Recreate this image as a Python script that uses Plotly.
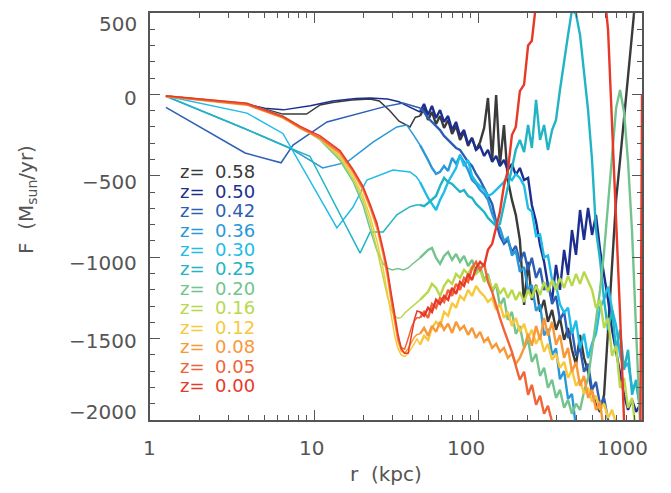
import math
import plotly.graph_objects as go

# Shared outer radial grid (kpc) for the noisy outer parts of all curves
R_GRID = [44.3, 46.9, 49.6, 52.4, 55.5, 58.7, 62.1, 65.7, 69.5, 73.5, 77.7, 82.2, 87.0, 92.0,
          97.3, 103, 109, 115, 122, 129, 136, 144, 152, 161, 170, 180, 191, 202, 213, 226,
          239, 253, 267, 283, 299, 316, 335, 354, 374, 396, 419, 443, 469, 496, 524, 555,
          587, 621, 657, 695, 735, 777, 822, 870, 920, 973]

LABELS = ["0.58", "0.50", "0.42", "0.36", "0.30", "0.25", "0.20", "0.16", "0.12", "0.08", "0.05", "0.00"]
COLORS = ["#3a3a3a", "#1c2f8f", "#2c5fb4", "#2898d8", "#20bce8", "#22b4c4",
          "#72c48c", "#b8d84c", "#f8c83c", "#f89838", "#f06438", "#e83828"]

# z = 0.58
r_in_058 = [1.25, 3.9, 6.46, 9.0, 10.9, 13, 17, 22, 25, 29, 33, 38.5, 41.5]
f_in_058 = [-10, -60, -121, -121, -65, -50, -35, -28, -40, -100, -165, -200, -140]
f_out_058 = [-133, -84, -157, -108, -182, -133, -206, -157, -243, -194, -280, -231, -317, -268,
             -341, -292, -206, -22, -403, -4, -433, -188, -526, -648, -740, -894, -1293, -1029,
             -1262, -1170, -1336, -1262, -1397, -1324, -1446, -1373, -1508, -1434, -1569, -1661,
             -1477, -1618, -1704, -1827, -1907, -1950, -1845, -1446, -1029, -648, -403, -126,
             150, 426, 641, 887]
# z = 0.50
r_in_050 = [1.25, 3.9, 5.0, 6.5, 9.5, 13, 18, 22, 28, 33, 37, 41.5]
f_in_050 = [-10, -60, -85, -95, -70, -40, -25, -22, -28, -45, -70, -95]
f_out_050 = [-108, -59, -126, -71, -145, -96, -169, -133, -219, -169, -255, -219, -305, -268,
             -341, -317, -378, -341, -415, -378, -440, -403, -464, -427, -495, -452, -526, -513,
             -679, -783, -925, -1029, -1170, -1262, -1047, -1201, -955, -1109, -833, -986, -710,
             -894, -697, -863, -740, -955, -1109, -1262, -1446, -1581, -1704, -1845, -1938,
             -1876, -1950, -1907]
# z = 0.42
r_in_042 = [1.25, 3.8, 6.3, 7.45, 12.0, 19.9, 27, 34.9, 40]
f_in_042 = [-80, -360, -420, -311, -169, -108, -75, -53, -70]
f_out_042 = [-84, -108, -145, -169, -194, -219, -255, -280, -305, -329, -341, -378, -415, -440,
             -489, -526, -575, -624, -673, -783, -870, -918, -894, -968, -931, -1029, -968,
             -1078, -1004, -1127, -1066, -1201, -1152, -1287, -1238, -1385, -1336, -1496, -1446,
             -1606, -1557, -1704, -1655, -1815, -1766, -1907, -1864, -2000, -2061]
# z = 0.36
r_in_036 = [1.25, 3.7, 7.1, 11.3, 15.9, 22.9, 32.0, 36.8, 40.5]
f_in_036 = [-12, -206, -329, -452, -416, -293, -200, -188, -250]
f_out_036 = [-311, -354, -403, -452, -489, -476, -440, -470, -391, -425, -378, -415, -464, -526,
             -550, -587, -611, -648, -734, -796, -820, -900, -880, -990, -960, -1090, -1060,
             -1200, -1170, -1330, -1290, -1480, -1440, -1600, -1560, -1750, -1700, -1870, -1840,
             -2048]
# z = 0.30
r_in_030 = [1.25, 3.9, 6.46, 13.8, 17.3, 21.0, 30.3, 38.5, 42.0]
f_in_030 = [-10, -115, -240, -820, -692, -526, -464, -476, -505]
f_out_030 = [-538, -587, -636, -673, -710, -648, -599, -538, -495, -452, -372, -440, -403, -501,
             -538, -563, -587, -624, -611, -587, -563, -538, -501, -526, -489, -513, -560, -700,
             -720, -870, -860, -1000, -990, -1140, -1170, -1290, -1340, -1310, -1470, -1390,
             -1560, -1470, -1620, -1530, -1470, -1310, -1260, -1180, -1320, -1420, -1600, -1680,
             -1650, -1800, -1780, -1907]
# z = 0.25
r_in_025 = [1.25, 3.7, 7.1, 9.45, 19.1, 22.0, 26.4, 32.0, 38.5, 42.0]
f_in_025 = [-10, -206, -329, -380, -975, -845, -845, -740, -690, -680]
f_out_025 = [-679, -686, -667, -648, -624, -563, -513, -538, -550, -575, -599, -587, -624, -636,
             -673, -697, -722, -759, -783, -808, -796, -679, -556, -433, -341, -280, -354, -188,
             -329, -34, -280, -188, -341, -219, -157, 27, 211, 365, 518, 494, 365, 150, -96,
             -403, -833, -1017, -1262, -1446, -1324, -1569, -1446, -1692, -1569, -1845, -1753,
             -1938]
# z = 0.20
r_in_020 = [1.25, 3.9, 6.46, 8.2, 10.9, 14.4, 17.3, 19.9, 22, 24.2, 26.4, 28, 30, 32.5, 35,
            37.5, 40, 42.5]
f_in_020 = [-10, -56, -132, -196, -280, -405, -535, -680, -830, -960, -1040, -1066, -1078,
            -1070, -1078, -1066, -1040, -1020]
f_out_020 = [-1004, -980, -955, -943, -1004, -1041, -992, -968, -1017, -980, -1029, -992, -1054,
             -1017, -1090, -1054, -1140, -1103, -1213, -1164, -1299, -1250, -1385, -1336, -1471,
             -1422, -1557, -1508, -1643, -1594, -1729, -1679, -1802, -1753, -1864, -1815, -1925,
             -1876, -1962, -1900, -1938, -1827, -1741, -1569, -1397, -1201, -968, -673, -354,
             -84, 27, -108, -415, -845, -1446, -2012]
# z = 0.16
r_in_016 = [1.25, 3.9, 6.46, 8.2, 10.9, 14.4, 17.3, 19.9, 22, 24.2, 26.4, 28, 29.5, 31, 32.5,
            34, 36, 38, 40, 42.5]
f_in_016 = [-10, -58, -135, -200, -275, -390, -520, -650, -790, -950, -1120, -1240, -1320,
            -1360, -1375, -1370, -1340, -1320, -1300, -1280]
f_out_016 = [-1262, -1238, -1213, -1164, -1189, -1238, -1176, -1140, -1164, -1103, -1127, -1078,
             -1103, -1054, -1103, -1078, -1152, -1115, -1201, -1164, -1225, -1189, -1250, -1201,
             -1262, -1213, -1275, -1201, -1250, -1176, -1232, -1152, -1213, -1140, -1201, -1127,
             -1189, -1115, -1176, -1103, -1164, -1090, -1152, -1201, -1311, -1262, -1434, -1373,
             -1606, -1544, -1802, -1741, -1925, -1864, -2085]
# bundle radii for z <= 0.12
r_in_low = [1.25, 3.9, 6.46, 8.2, 10.9, 14.4, 17.3, 19.9, 22, 24.2, 26.4, 28, 29.5, 31, 32.5,
            34, 35.7, 37.5, 39.3, 41, 42.5]
# z = 0.12
f_in_012 = [-10, -58, -138, -205, -275, -380, -500, -625, -750, -900, -1070, -1210, -1350,
            -1480, -1560, -1600, -1610, -1590, -1560, -1530, -1500]
f_out_012 = [-1538, -1483, -1508, -1434, -1397, -1422, -1336, -1360, -1281, -1311, -1238, -1262,
             -1201, -1238, -1176, -1213, -1238, -1275, -1250, -1324, -1287, -1373, -1336, -1422,
             -1373, -1459, -1409, -1496, -1446, -1532, -1483, -1581, -1532, -1630, -1594, -1679,
             -1643, -1741, -1692, -1790, -1753, -1839, -1802, -1888, -1851, -1938, -1900, -1987,
             -1938, -2024]
# z = 0.08
f_in_008 = [-14, -66, -145, -208, -272, -365, -480, -590, -700, -825, -985, -1120, -1270,
            -1410, -1515, -1575, -1590, -1560, -1520, -1490, -1475]
f_out_008 = [-1471, -1434, -1483, -1422, -1459, -1397, -1446, -1409, -1465, -1397, -1446, -1422,
             -1477, -1434, -1496, -1459, -1520, -1496, -1557, -1532, -1581, -1557, -1618, -1594,
             -1655, -1618, -1557, -1471, -1544, -1422, -1508, -1373, -1483, -1397, -1538, -1477,
             -1618, -1557, -1704, -1643, -1790, -1729, -1864, -1815, -1938, -1888, -2085]
# z = 0.05
f_in_005 = [-12, -62, -140, -202, -265, -355, -470, -575, -685, -805, -965, -1090, -1240,
            -1375, -1495, -1555, -1565, -1500, -1430, -1390, -1370]
f_out_005 = [-1373, -1336, -1373, -1287, -1311, -1250, -1275, -1201, -1238, -1164, -1201, -1127,
             -1152, -1066, -1029, -1078, -1041, -1152, -1213, -1299, -1373, -1446, -1508, -1581,
             -1667, -1753, -1704, -1845, -1784, -1907, -1851, -1962, -1913, -2012, -2153]
# z = 0.00
f_in_000 = [-8, -55, -135, -195, -255, -345, -460, -565, -675, -790, -950, -1070, -1215, -1350,
            -1470, -1560, -1590, -1590, -1480, -1380, -1330]
f_out_000 = [-1336, -1360, -1311, -1336, -1262, -1287, -1238, -1262, -1189, -1225, -1152, -1176,
             -1103, -1140, -1066, -1029, -1054, -955, -918, -808, -722, -560, -470, -250, -200,
             20, 60, 300, 330, 560, 700, 850, 950, 1000, 1050, 1100, 1100, 1100, 1100, 1100,
             1100, 1050, 1000, 950, 850, 750, 650, 395, -200, -700, -1350, -2000, -2500, -2700,
             -2700, -2600]
r_tail_000 = [1000]
f_tail_000 = [0]

SERIES = [
    (r_in_058, f_in_058, f_out_058, [], []),
    (r_in_050, f_in_050, f_out_050, [], []),
    (r_in_042, f_in_042, f_out_042, [], []),
    (r_in_036, f_in_036, f_out_036, [], []),
    (r_in_030, f_in_030, f_out_030, [], []),
    (r_in_025, f_in_025, f_out_025, [], []),
    (r_in_020, f_in_020, f_out_020, [], []),
    (r_in_016, f_in_016, f_out_016, [], []),
    (r_in_low, f_in_012, f_out_012, [], []),
    (r_in_low, f_in_008, f_out_008, [], []),
    (r_in_low, f_in_005, f_out_005, [], []),
    (r_in_low, f_in_000, f_out_000, r_tail_000, f_tail_000),
]

fig = go.Figure()
for (ri, fi, fo, rt, ft), col in zip(SERIES, COLORS):
    # inner (smooth, coarse) part
    fig.add_trace(go.Scatter(x=list(ri) + R_GRID[:1], y=list(fi) + list(fo[:1]), mode="lines",
                             line=dict(color=col, width=1.5), showlegend=False,
                             hoverinfo="skip"))
    # outer (noisy) part, drawn slightly heavier
    fig.add_trace(go.Scatter(x=R_GRID[:len(fo)] + list(rt), y=list(fo) + list(ft), mode="lines",
                             line=dict(color=col, width=2.4), showlegend=False,
                             hoverinfo="skip"))

FONT = "DejaVu Sans"
TXT = "#555555"
W, H = 671, 493
L, R, T, B = 150, 29, 13, 73
PW, PH = W - L - R, H - T - B


def px(xp):
    return (xp - L) / PW


def py(yp):
    return (H - B - yp) / PH


ann = []
# legend-like labels
for i, (lab, col) in enumerate(zip(LABELS, COLORS)):
    yc = 171.7 + 19.45 * i
    ann.append(dict(text="z=", x=px(178), y=py(yc), xref="paper", yref="paper",
                    xanchor="left", yanchor="middle", showarrow=False,
                    font=dict(family=FONT, size=18, color=col)))
    ann.append(dict(text=lab, x=px(213), y=py(yc), xref="paper", yref="paper",
                    xanchor="left", yanchor="middle", showarrow=False,
                    font=dict(family=FONT, size=18, color=col)))

# x tick labels
X_TICKS = [1, 10, 100, 1000]
X_TICK_TEXT = ["1", "10", "100", "1000"]
X_SHIFT = [-1, -3, -12, -20]
for v, t, s in zip(X_TICKS, X_TICK_TEXT, X_SHIFT):
    ann.append(dict(text=t, x=math.log10(v), y=py(448), xref="x", yref="paper",
                    xanchor="center", yanchor="middle", xshift=s, showarrow=False,
                    font=dict(family=FONT, size=20, color=TXT)))

# y tick labels
Y_TICKS = [500, 0, -500, -1000, -1500, -2000]
Y_TICK_TEXT = ["500", "0", "\u2212500", "\u22121000", "\u22121500", "\u22122000"]
Y_LABEL_PIX = [24, 98, 182, 263, 341, 412]
for t, yp in zip(Y_TICK_TEXT, Y_LABEL_PIX):
    ann.append(dict(text=t, x=px(139), y=py(yp), xref="paper", yref="paper",
                    xanchor="right", yanchor="middle", showarrow=False,
                    font=dict(family=FONT, size=20, color=TXT)))

ann.append(dict(text="r  (kpc)", x=px(386), y=py(474), xref="paper", yref="paper",
                xanchor="center", yanchor="middle", showarrow=False,
                font=dict(family=FONT, size=20, color=TXT)))
ann.append(dict(text="F  (M<sub>sun</sub>/yr)", x=px(27), y=py(200), xref="paper", yref="paper",
                xanchor="center", yanchor="middle", textangle=-90, showarrow=False,
                font=dict(family=FONT, size=20, color=TXT)))

axis_common = dict(showline=True, linecolor="#555555", linewidth=1.5, mirror="allticks",
                   ticks="inside", ticklen=10, tickwidth=1.2, tickcolor="#555555",
                   showgrid=False, zeroline=False, showticklabels=False)

fig.update_layout(
    width=W, height=H,
    margin=dict(l=L, r=R, t=T, b=B, pad=0),
    plot_bgcolor="white", paper_bgcolor="white",
    xaxis=dict(type="log", range=[0, 3], tickvals=X_TICKS,
               minor=dict(ticks="inside", ticklen=5, tickwidth=1.2, tickcolor="#555555",
                          dtick="D1", showgrid=False),
               **axis_common),
    yaxis=dict(range=[-2000, 500], tickvals=Y_TICKS,
               minor=dict(ticks="inside", ticklen=5, tickwidth=1.2, tickcolor="#555555",
                          dtick=100, showgrid=False),
               **axis_common),
    annotations=ann,
)

fig.write_html("out.html")
